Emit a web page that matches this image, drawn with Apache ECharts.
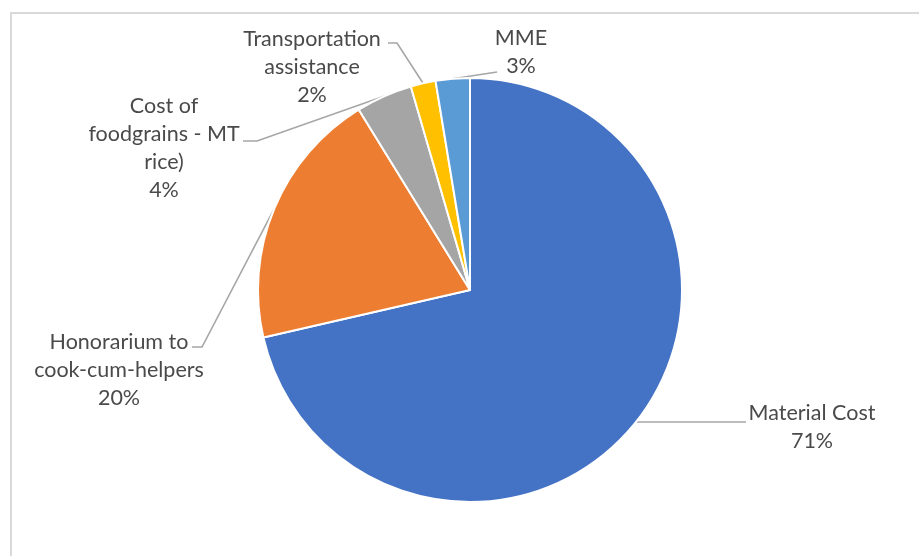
<!DOCTYPE html>
<html>
<head>
<meta charset="utf-8">
<script src="https://cdn.jsdelivr.net/npm/echarts@6/dist/echarts.min.js"></script>
<style>html,body{margin:0;padding:0;background:#fff;}#c{width:919px;height:556px;}</style>
</head>
<body>
<div id="c"></div>
<script>
// Data
var categories = ['Material Cost', 'Honorarium to\ncook-cum-helpers', 'Cost of\nfoodgrains - MT\nrice)', 'Transportation\nassistance', 'MME'];
var values = [71.4, 19.8, 4.3, 1.9, 2.6];
var percentLabels = ['71%', '20%', '4%', '2%', '3%'];
var colors = ['#4472C4', '#ED7D31', '#A5A5A5', '#FFC000', '#5B9BD5'];

// Label layout (anchor = centre of label block; via = leader line bend/end points)
var labelPlacement = [
  { x: 812, y: 427, via: [[746, null]] },
  { x: 119, y: 370, via: [[202, 347], [192, 347]] },
  { x: 164, y: 148, via: [[257, 141], [243, 141]] },
  { x: 312, y: 67,  via: [[397, 43], [388, 43]] },
  { x: 521, y: 52,  via: [[497, 72]] }
];

var chart = echarts.init(document.getElementById('c'), null, { renderer: 'canvas' });
var data = categories.map(function (c, i) {
  return { name: c, value: values[i], itemStyle: { color: colors[i] }, pct: percentLabels[i] };
});

chart.setOption({
  animation: false,
  backgroundColor: '#fff',
  graphic: [{
    type: 'rect', silent: true,
    shape: { x: 11, y: 13, width: 940, height: 580 },
    style: { fill: 'none', stroke: '#D9D9D9', lineWidth: 2 }
  }],
  series: [{
    type: 'pie',
    center: [470, 290],
    radius: 212,
    startAngle: 90,
    clockwise: true,
    avoidLabelOverlap: false,
    data: data,
    itemStyle: { borderColor: '#fff', borderWidth: 2 },
    label: {
      show: true,
      position: 'outside',
      formatter: function (p) { return p.name + '\n' + p.data.pct; },
      fontFamily: 'Lato',
      fontSize: 21.5,
      lineHeight: 28,
      color: '#4a4a4a',
      align: 'center'
    },
    labelLine: {
      show: true,
      length: 10,
      length2: 10,
      smooth: false,
      lineStyle: { color: '#A6A6A6', width: 1.6 }
    },
    labelLayout: function (params) {
      var lp = labelPlacement[params.dataIndex];
      var start = params.labelLinePoints ? params.labelLinePoints[0] : null;
      var pts = null;
      if (start) {
        pts = [[start[0], start[1]]];
        lp.via.forEach(function (v) { pts.push([v[0], v[1] == null ? start[1] : v[1]]); });
      }
      var r = { x: lp.x, y: lp.y, align: 'center', verticalAlign: 'middle' };
      if (pts) r.labelLinePoints = pts;
      return r;
    }
  }]
});
</script>
</body>
</html>
